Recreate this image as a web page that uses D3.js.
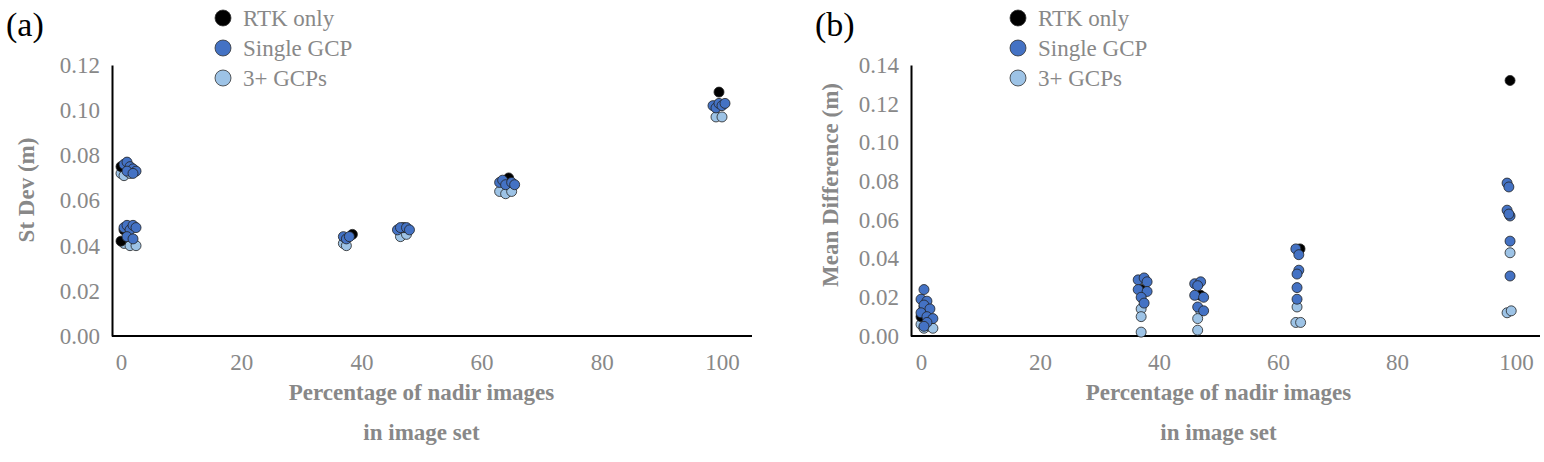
<!DOCTYPE html>
<html><head><meta charset="utf-8">
<script src="https://cdn.jsdelivr.net/npm/d3@7"></script>
<style>body{margin:0;background:#fff}</style>
</head><body><svg></svg>
<script>
const width = 1544, height = 462
const seriesNames = ['RTK only', 'Single GCP', '3+ GCPs']
const seriesColors = ['#000000', '#4472C4', '#9DC3E6']
const xTicks = [0, 20, 40, 60, 80, 100]

// panel (a) St Dev
const aRtkX = [0, 0, 0.5, 38.5, 47, 64.5, 99.5]
const aRtkY = [0.075, 0.042, 0.047, 0.045, 0.048, 0.070, 0.108]
const aSingleX = [0.5, 1, 1.5, 2, 2.5, 1, 2, 0.5, 1, 1.5, 2, 2.5, 1, 2, 37, 37.5, 38, 46, 46.5, 47.5, 48, 63, 63.5, 64, 65, 65.5, 98.5, 99, 99.5, 100, 100.5]
const aSingleY = [0.076, 0.077, 0.075, 0.074, 0.073, 0.073, 0.072, 0.048, 0.049, 0.047, 0.049, 0.048, 0.044, 0.043, 0.044, 0.043, 0.044, 0.047, 0.048, 0.048, 0.047, 0.068, 0.069, 0.067, 0.068, 0.067, 0.102, 0.101, 0.103, 0.102, 0.103]
const aLightX = [0, 0.5, 1.5, 0.5, 1.5, 2.5, 37, 37.5, 46.5, 47.5, 63, 64, 65, 99, 100]
const aLightY = [0.072, 0.071, 0.072, 0.041, 0.040, 0.040, 0.041, 0.040, 0.044, 0.045, 0.064, 0.063, 0.064, 0.097, 0.097]

// panel (b) Mean Difference
const bRtkX = [0, 0.5, 37, 47, 63.7, 99]
const bRtkY = [0.010, 0.015, 0.024, 0.021, 0.045, 0.132]
const bSingleX = [0.5, 0, 1, 0.5, 1.5, 0, 1, 2, 1, 0.5, 36.5, 37.5, 38, 36.5, 38, 37, 37.5, 46, 47, 46.5, 46, 47.5, 46.5, 47.5, 63, 63.5, 63.5, 63.2, 63.2, 63.2, 98.5, 98.8, 98.5, 99, 98.8, 99, 99]
const bSingleY = [0.024, 0.019, 0.018, 0.016, 0.014, 0.012, 0.010, 0.009, 0.007, 0.005, 0.029, 0.030, 0.028, 0.024, 0.023, 0.020, 0.017, 0.027, 0.028, 0.026, 0.021, 0.020, 0.015, 0.013, 0.045, 0.042, 0.034, 0.032, 0.025, 0.019, 0.079, 0.077, 0.065, 0.062, 0.063, 0.049, 0.031]
const bLightX = [0, 0.5, 1.5, 2, 37, 37, 37, 47, 46.5, 46.5, 63.2, 63, 63.8, 99, 98.5, 99.2]
const bLightY = [0.006, 0.004, 0.005, 0.004, 0.014, 0.010, 0.002, 0.013, 0.009, 0.003, 0.015, 0.007, 0.007, 0.043, 0.012, 0.013]

let svg = d3.select('svg').attr('width', width).attr('height', height)
    .style('font-family', '"Liberation Serif", serif')

function drawPanel(p) {
    let xScale = d3.scaleLinear().domain([0, 100]).range([p.x0, p.x100])
    let yScale = d3.scaleLinear().domain([0, p.yMax]).range([336, 65])
    let g = svg.append('g')

    let yTicks = d3.range(0, p.yMax + 0.0001, 0.02)
    let yAxis = d3.axisLeft(yScale).tickValues(yTicks).tickFormat(d3.format('.2f')).tickSize(0).tickPadding(12)
    let ya = g.append('g').attr('transform', 'translate(' + p.axisX + ',0)').call(yAxis)
    ya.select('.domain').attr('stroke', '#000').attr('stroke-width', 2)
    ya.selectAll('text').attr('fill', '#888').style('font-size', '23px').style('font-family', '"Liberation Serif", serif')

    let xAxis = d3.axisBottom(xScale).tickValues(xTicks).tickSize(0).tickPadding(18)
    let xa = g.append('g').attr('transform', 'translate(0,336)').call(xAxis)
    xa.select('.domain').remove()
    xa.selectAll('text').attr('fill', '#888').style('font-size', '23px').style('font-family', '"Liberation Serif", serif')
    g.append('line').attr('x1', p.axisX).attr('x2', p.axisEnd).attr('y1', 336).attr('y2', 336)
        .attr('stroke', '#000').attr('stroke-width', 2)

    let sets = [[p.lightX, p.lightY, 2], [p.rtkX, p.rtkY, 0], [p.singleX, p.singleY, 1]]
    sets.forEach(([xs, ys, s]) => {
        g.append('g').selectAll('circle').data(xs).enter().append('circle')
            .attr('cx', (d) => xScale(d))
            .attr('cy', (d, i) => yScale(ys[i]))
            .attr('r', 5)
            .attr('fill', seriesColors[s])
            .attr('stroke', '#222').attr('stroke-width', 0.8)
    })

    // legend
    seriesNames.forEach((name, i) => {
        g.append('circle').attr('cx', p.legX).attr('cy', 18 + i * 30).attr('r', 8)
            .attr('fill', seriesColors[i]).attr('stroke', '#333').attr('stroke-width', 0.8)
        g.append('text').attr('x', p.legX + 20).attr('y', 26 + i * 30).text(name)
            .attr('fill', '#888').style('font-size', '23px')
    })

    g.append('text').attr('x', p.labelX).attr('y', 36).text(p.label).style('font-size', '34px')
    g.append('text').attr('x', (p.x0 + p.x100) / 2).attr('y', 400).attr('text-anchor', 'middle')
        .text('Percentage of nadir images').attr('fill', '#888').style('font-size', '23px').style('font-weight', 'bold')
    g.append('text').attr('x', (p.x0 + p.x100) / 2).attr('y', 440).attr('text-anchor', 'middle')
        .text('in image set').attr('fill', '#888').style('font-size', '23px').style('font-weight', 'bold')
    g.append('text').attr('transform', 'translate(' + p.titleX + ',' + p.titleY + ') rotate(-90)')
        .attr('text-anchor', 'middle').text(p.title)
        .attr('fill', '#888').style('font-size', '23px').style('font-weight', 'bold')
}

drawPanel({x0: 121, x100: 722, axisX: 112, axisEnd: 752, yMax: 0.12, legX: 223, labelX: 6, label: '(a)',
    title: 'St Dev (m)', titleX: 34, titleY: 190,
    rtkX: aRtkX, rtkY: aRtkY, singleX: aSingleX, singleY: aSingleY, lightX: aLightX, lightY: aLightY})
drawPanel({x0: 921, x100: 1516, axisX: 911, axisEnd: 1540, yMax: 0.14, legX: 1018, labelX: 815, label: '(b)',
    title: 'Mean Difference (m)', titleX: 838, titleY: 185,
    rtkX: bRtkX, rtkY: bRtkY, singleX: bSingleX, singleY: bSingleY, lightX: bLightX, lightY: bLightY})
</script></body></html>
